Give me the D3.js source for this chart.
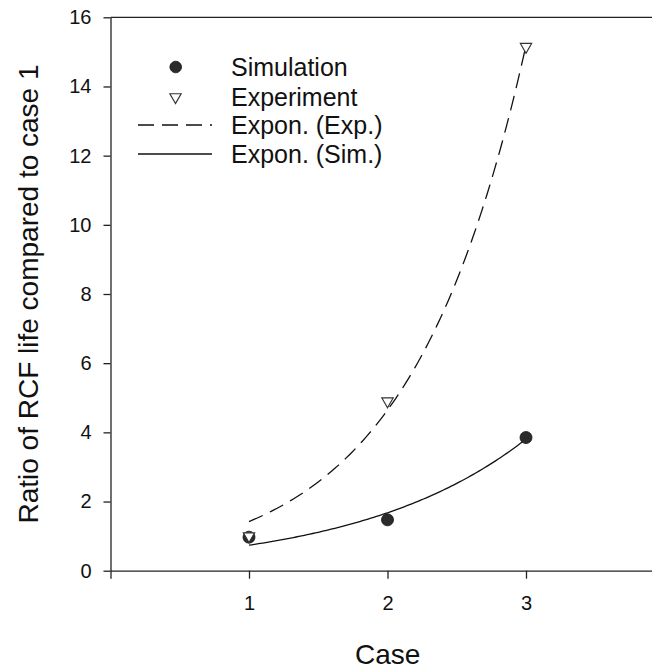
<!DOCTYPE html>
<html>
<head>
<meta charset="utf-8">
<script src="https://cdn.jsdelivr.net/npm/d3@7"></script>
<style>
  body { margin: 0; background: #fff; }
  svg { display: block; font-family: Arial, "Liberation Sans", sans-serif; }
</style>
</head>
<body>
<div id="chart"></div>
<script>
// data
var cases = [1, 2, 3];
var simulation = [0.97, 1.47, 3.85];
var experiment = [1.0, 4.9, 15.15];
var xTickValues = [0, 1, 2, 3, 4];
var xTickLabels = ["", "1", "2", "3", ""];
var yTickValues = [0, 2, 4, 6, 8, 10, 12, 14, 16];
var legendLabels = ["Simulation", "Experiment", "Expon. (Exp.)", "Expon. (Sim.)"];

var width = 652, height = 670;
var margin = {left: 110.5, top: 17.3, bottom: 99.3};

var svg = d3.select("#chart").append("svg")
    .attr("width", width).attr("height", height);

var x = d3.scaleLinear().domain([0, 4]).range([margin.left, margin.left + 4 * 138.5]);
var y = d3.scaleLinear().domain([0, 16]).range([height - margin.bottom, margin.top]);

// y = a*exp(b*x), least squares (Gauss-Newton), like SigmaPlot's exponential growth fit
function expFit(xs, ys) {
    var n = xs.length;
    var lx = d3.mean(xs), ly = d3.mean(ys.map(Math.log));
    var b = d3.sum(xs, (v, i) => (v - lx) * (Math.log(ys[i]) - ly)) / d3.sum(xs, v => (v - lx) * (v - lx));
    var a = Math.exp(ly - b * lx);
    for (var it = 0; it < 100; it++) {
        var s11 = 0, s12 = 0, s22 = 0, g1 = 0, g2 = 0;
        for (var i = 0; i < n; i++) {
            var e = Math.exp(b * xs[i]);
            var j1 = e, j2 = a * xs[i] * e;
            var r = ys[i] - a * e;
            s11 += j1 * j1; s12 += j1 * j2; s22 += j2 * j2;
            g1 += j1 * r; g2 += j2 * r;
        }
        var det = s11 * s22 - s12 * s12;
        var da = (s22 * g1 - s12 * g2) / det;
        var db = (s11 * g2 - s12 * g1) / det;
        a += da; b += db;
        if (Math.abs(da) < 1e-10 && Math.abs(db) < 1e-10) break;
    }
    return v => a * Math.exp(b * v);
}

var fitExp = expFit(cases, experiment);
var fitSim = expFit(cases, simulation);
var xs = d3.range(1, 3.0001, 0.02);

var axisColor = "#222";

// axes
var xAxis = d3.axisBottom(x).tickValues(xTickValues)
    .tickFormat((d, i) => xTickLabels[i]).tickSize(8).tickSizeOuter(0).tickPadding(17);
var yAxis = d3.axisLeft(y).tickValues(yTickValues).tickSize(7).tickSizeOuter(0).tickPadding(12);

var gx = svg.append("g").attr("transform", "translate(0," + y(0) + ")").call(xAxis);
var gy = svg.append("g").attr("transform", "translate(" + x(0) + ",0)").call(yAxis);
[gx, gy].forEach(g => {
    g.selectAll("path, line").attr("stroke", axisColor).attr("stroke-width", 1.3);
    g.selectAll("text").attr("fill", "#111").style("font-size", "20px");
});

// top frame line
svg.append("line")
    .attr("x1", x(0)).attr("x2", x(4))
    .attr("y1", y(16)).attr("y2", y(16))
    .attr("stroke", axisColor).attr("stroke-width", 1.3);

// axis titles
svg.append("text")
    .attr("x", 387.7).attr("y", 664)
    .attr("text-anchor", "middle").attr("fill", "#111")
    .style("font-size", "28px").text("Case");
svg.append("text")
    .attr("transform", "translate(37.5," + ((y(0) + y(16)) / 2) + ") rotate(-90)")
    .attr("text-anchor", "middle").attr("fill", "#111")
    .style("font-size", "28px").text("Ratio of RCF life compared to case 1");

// fit lines
var line = d3.line().x(d => x(d[0])).y(d => y(d[1])).curve(d3.curveLinear);
svg.append("path")
    .datum(xs.map(v => [v, fitExp(v)]))
    .attr("d", line).attr("fill", "none")
    .attr("stroke", "#111").attr("stroke-width", 1.3).attr("stroke-dasharray", "15,8");
svg.append("path")
    .datum(xs.map(v => [v, fitSim(v)]))
    .attr("d", line).attr("fill", "none")
    .attr("stroke", "#111").attr("stroke-width", 1.3);

// markers
var tri = d3.symbol().type(d3.symbolTriangle).size(55);

svg.selectAll("circle.sim")
    .data(cases)
    .enter().append("circle")
    .attr("class", "sim")
    .attr("cx", d => x(d))
    .attr("cy", (d, i) => y(simulation[i]))
    .attr("r", 6)
    .attr("fill", "#2b2b2b").attr("stroke", "#111").attr("stroke-width", 0.8);

svg.selectAll("path.exp")
    .data(cases)
    .enter().append("path")
    .attr("class", "exp")
    .attr("d", tri)
    .attr("transform", (d, i) => "translate(" + x(d) + "," + y(experiment[i]) + ") rotate(180)")
    .attr("fill", "#fff").attr("stroke", "#333").attr("stroke-width", 1.2);

// legend
var legend = svg.append("g");
var rowY = [67, 97, 125, 154];
legend.append("circle").attr("cx", 175.7).attr("cy", rowY[0]).attr("r", 5.8)
    .attr("fill", "#2b2b2b").attr("stroke", "#111").attr("stroke-width", 0.8);
legend.append("path").attr("d", tri)
    .attr("transform", "translate(175.5," + rowY[1] + ") rotate(180)")
    .attr("fill", "#fff").attr("stroke", "#333").attr("stroke-width", 1.2);
legend.append("line").attr("x1", 138).attr("x2", 212).attr("y1", rowY[2]).attr("y2", rowY[2])
    .attr("stroke", "#111").attr("stroke-width", 1.3).attr("stroke-dasharray", "16,8");
legend.append("line").attr("x1", 138).attr("x2", 212).attr("y1", rowY[3]).attr("y2", rowY[3])
    .attr("stroke", "#111").attr("stroke-width", 1.3);
legend.selectAll("text")
    .data(legendLabels)
    .enter().append("text")
    .attr("x", 231)
    .attr("y", (d, i) => rowY[i])
    .attr("dy", "0.35em")
    .attr("fill", "#111")
    .style("font-size", "25px")
    .text(d => d);
</script>
</body>
</html>
